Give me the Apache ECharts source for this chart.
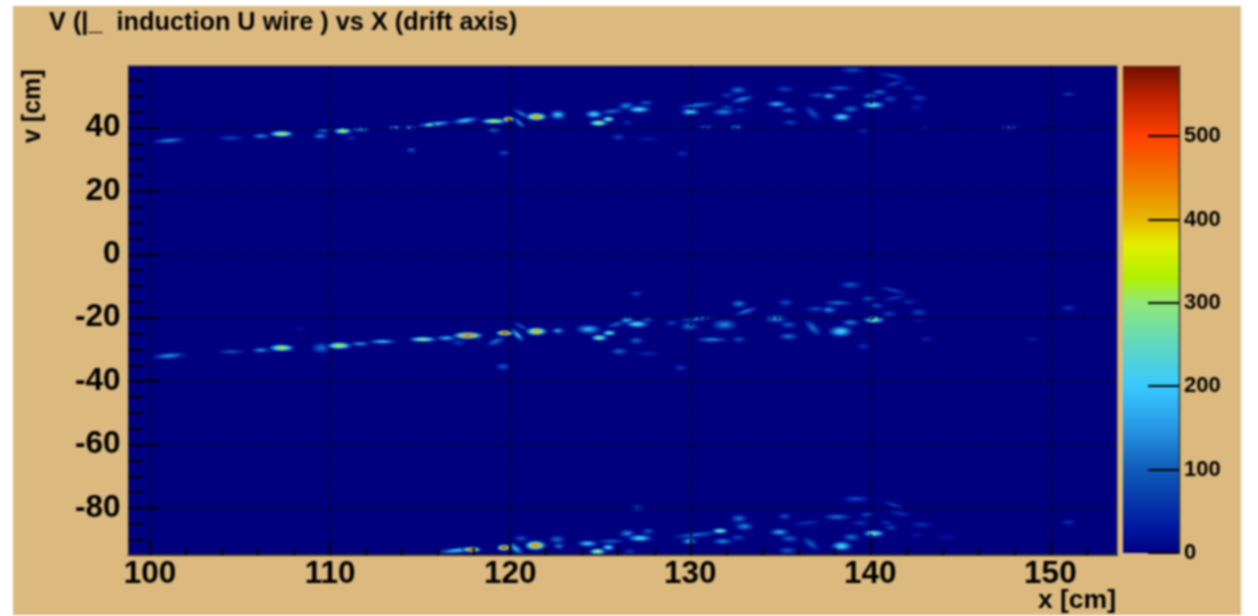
<!DOCTYPE html>
<html><head><meta charset="utf-8">
<style>html,body{margin:0;padding:0;background:#fff}#chart{width:1258px;height:616px;filter:blur(0.9px)}</style>
<script src="https://cdn.jsdelivr.net/npm/echarts@6/dist/echarts.min.js"></script>
</head><body><div id="chart"></div>
<script>
const titleText = 'V (|_  induction U wire ) vs X (drift axis)';
const xMajorTicks = [100,110,120,130,140,150];
const xMinorTicks = [102,104,106,108,112,114,116,118,122,124,126,128,132,134,136,138,142,144,146,148,152];
const yMajorTicks = [-80,-60,-40,-20,0,20,40];
const yMinorTicks = [-90,-85,-75,-70,-65,-55,-50,-45,-35,-30,-25,-15,-10,-5,5,10,15,25,30,35,45,50,55];
const colorbarTicks = [0,100,200,300,400,500];
const paletteValues = [0,30,100,150,200,250,300,330,370,400,450,500,550,584];
const paletteColors = ['#00007f','#0018a0','#0f5cb8','#2898e4','#38c8ff','#60d8c0','#90e878','#b0f000','#e4f000','#e8b800','#f07800','#ff4000','#b82000','#701000'];

// each feature: x1, v1, x2, v2, peak content, half thickness in cm
const upperBand = [
[100.1,35.5,102,36.3,130,.7],[103.7,36.7,105.2,36.7,70,.7],[105.7,37.3,106.6,37.3,130,.7],[106.7,38,107.9,38,340,.8],
[109.3,39,109.9,39,100,.7],[109.1,37.3,109.8,37.3,130,.7],[110.3,38.9,111.1,38.9,330,.8],[111.2,39.4,112.2,39.4,120,.7],
[110.9,36.7,111.4,36.7,50,.6],[113.2,40,114,40,150,.5],[114.1,40,114.7,40,150,.5],[114.8,40.5,116.8,41.7,200,.7],[115.2,40.7,115.8,40.9,300,.5],
[116.8,41.7,118.2,42.7,190,.8],[118.4,42,119.8,42,350,.7],[119.7,42.6,120.1,42.6,550,.7],[118.8,39.2,119.4,39.2,90,.8],
[114.3,32.9,114.7,32.9,90,.7],[119.4,32,119.9,32,80,.7],[120.2,45.6,121.1,43,120,.7],[120.2,43,120.8,40,130,.7],
[121,43.4,121.9,43.4,430,1],[122.4,44,122.9,44,190,1.2],[124.3,44.2,125,44.2,210,1],[124.5,41.4,125.3,41.4,330,.8],
[125.2,42.6,125.7,42.6,300,.7],[125,44.7,126.3,45.5,110,.7],[126.1,46.8,126.8,46.8,130,1],[126.6,45.7,127.7,45.7,220,.9],
[127.2,47.8,127.9,47.8,90,.7],[125.7,37,126.3,37,70,.8],[127,36.4,128.3,36.4,40,.6],[126.3,41.5,126.7,41.5,50,.7],
[129.3,31.7,129.8,31.7,50,.8],[129.3,46.4,131.5,47.7,120,.7],[129.6,44.9,130.4,44.9,210,.9],[130.3,40.1,131.4,40.1,90,.5],[132.2,40.1,132.9,40.1,130,.6],
[131.3,44.9,132.4,44.9,130,.9],[131.7,46.2,132.3,46.2,80,.8],[132.3,48.1,133.5,49.7,130,.8],[132.3,51.8,133,51.8,110,1],
[131.7,50.2,132.4,50.2,60,.7],[132.5,45.5,133,45.5,60,.7],[134.3,47.4,135.3,47.4,170,.8],[134.8,52.1,135.7,52.1,70,.8],
[135.1,45.5,135.8,45.5,100,.8],[135.2,41.6,135.9,41.6,70,.8],[136.5,46,137.1,43,80,1.1],[136.5,50.2,137.8,50.2,70,.7],
[137.4,49.9,138,49.9,170,.8],[137.6,52.4,139,52.4,90,.7],[138,43.3,138.8,43.3,220,1],[138.5,45.8,139.3,45.8,110,.9],
[138.4,58.1,139.6,58.1,80,.8],[139.6,47.1,140.7,47.1,240,.9],[139.6,49.9,140.4,49.9,100,.7],[140.1,51.2,140.9,51.2,110,.7],
[140.8,49,141.4,49,70,.9],[140.4,57.2,142.1,55.3,70,.6],[140.7,53,142,54.6,70,.6],[141.8,52.4,142.5,52.4,40,.7],
[142.3,49.3,143.1,49.3,60,.9],[142.2,46.4,142.9,46.4,30,.7],[139.3,38.9,139.9,38.9,40,.7],[150.6,50.5,151.4,50.5,70,.5],
[147.1,40,148.4,40,90,.5],[142.8,40,143.3,40,30,.5]
];
const middleBand = [
[100.1,-32.4,102,-31.6,140,.8],[103.7,-30.7,105.3,-30.7,90,.6],[105.7,-30.2,106.6,-30.2,140,.7],[106.7,-29.5,107.9,-29.5,340,.9],
[109.2,-29.5,109.8,-29.5,110,1.4],[109.9,-28.8,111.1,-28.8,340,.9],[111.1,-28.2,112.2,-28.2,150,.6],[112.1,-27.5,113.7,-27.5,190,.6],
[114.4,-26.8,115.9,-26.8,300,.7],[115.9,-26.4,117,-26.4,170,.7],[116.9,-25.6,118.4,-25.6,470,.9],[119.3,-24.8,120.1,-24.8,520,.7],
[118.8,-28.3,119.6,-26.6,110,.9],[119.3,-35.4,119.9,-35.4,90,.9],[120.1,-23.8,120.7,-27,180,.8],[120.2,-21.6,121,-23.8,90,.6],
[121,-24.3,121.9,-24.3,420,1],[116.8,-27.8,117.4,-27.8,60,.9],[108.1,-23.5,108.6,-23.5,25,.6],[122.4,-24.1,122.9,-24.1,150,.8],
[123.8,-23.6,124.9,-23.6,170,1.2],[124.6,-26.3,125.3,-26.3,290,.8],[125.2,-24.8,125.8,-24.8,270,.7],[125.4,-22.8,126.4,-21.3,100,.7],
[126.2,-20.8,126.8,-20.8,170,.9],[126.5,-22,127.6,-22,230,.9],[127.3,-20.6,127.9,-20.6,90,.7],[126.7,-12.4,127.3,-12.4,70,.7],
[126.7,-27.2,127.3,-27.2,100,.9],[125.7,-30.6,126.4,-30.6,100,.9],[127,-31.3,128.3,-31.3,40,.7],[129.2,-35.8,129.7,-35.8,60,.8],
[128.7,-21.6,129.2,-21.6,60,.8],[129.3,-20.8,131.4,-19.9,130,.6],[129.6,-22.7,130.3,-22.7,110,1.1],[130.3,-26.9,132.1,-26.9,130,.7],
[131.4,-22.2,132.4,-22.2,130,1.4],[132.4,-26.8,133,-26.8,80,.8],[132.5,-19,133.7,-16.9,120,.7],[132.4,-15.6,133,-15.6,120,1],
[134.2,-20.3,135.3,-20.3,140,1],[135,-15.2,135.6,-15.2,80,.9],[135.1,-22.2,135.8,-22.2,90,.9],[135,-25.9,135.9,-25.9,110,.9],
[136.5,-21.6,137.1,-24.7,110,1.2],[136.4,-17.2,137.6,-17.2,80,.7],[137.4,-17.5,138,-17.5,130,.9],[137.4,-15.3,139,-15.3,110,.7],
[137.9,-24.3,138.8,-24.3,210,1.4],[138.5,-21.5,139.3,-21.5,120,.9],[138.4,-9.6,139.4,-9.6,90,.9],[139.7,-20.6,140.7,-20.6,280,.9],
[139.6,-14,140.2,-14,80,.8],[140,-16.2,140.7,-16.2,80,.7],[140.7,-18.8,141.4,-18.8,70,.8],[140.4,-10.2,142.1,-12.4,70,.6],
[140.7,-14.5,142,-13,60,.6],[141.8,-15,142.5,-15,50,.7],[142.3,-18.3,143.1,-18.3,70,.9],[139.3,-29,139.9,-29,50,.8],
[142.8,-26.7,143.4,-26.7,40,.7],[150.6,-16.9,151.4,-16.9,60,.7],[148.6,-26.7,149.4,-26.7,35,.6],[142.3,-21,143,-21,25,.6]
];
const lowerBand = [
[115.9,-93.9,118.3,-92.8,200,.7],[117.4,-93.1,118.3,-93.1,500,.7],[119.4,-92.5,119.9,-92.5,520,.8],[120,-91.5,120.6,-94,170,1],
[120.3,-89.6,120.9,-89.6,80,.9],[121,-91.8,121.8,-91.8,440,1.2],[122.3,-89.9,122.9,-89.9,110,1],[122.5,-92,122.9,-92,120,.8],
[123.8,-91.2,124.8,-91.2,200,.8],[124.5,-93.7,125.2,-93.7,330,.8],[125.2,-92.4,125.7,-92.4,220,.8],[124.8,-90.5,126.4,-90.5,100,.6],
[126.2,-88,126.8,-88,130,1],[126.6,-89.5,127.8,-89.5,220,.9],[127.4,-87.3,127.9,-87.3,90,.8],[126.4,-93.7,126.9,-93.7,60,.7],
[126.8,-79.9,127.4,-79.9,60,.9],[128.9,-89.3,131.7,-87.6,110,.7],[129.6,-90.5,130.3,-90.5,170,.8],[131.3,-87.2,132,-87.2,290,.7],
[131.3,-90.5,132.3,-90.5,130,.8],[132.4,-83.3,133,-83.3,110,1.1],[132.6,-85.8,133.4,-85.8,130,1],[132.3,-89.3,133,-89.3,70,.8],
[134.5,-87.6,135.4,-87.6,160,.9],[135,-82.6,135.5,-82.6,80,.8],[135.1,-89.6,135.9,-89.6,100,.9],[135,-93.4,135.8,-93.4,90,.9],
[136.4,-90,137,-92.5,90,1.1],[135.6,-85.2,137.3,-84.2,60,.6],[137.4,-82.8,138.9,-82.8,110,.8],[138,-92,138.8,-92,220,1.2],
[138.6,-89.2,139.3,-89.2,110,1],[138.5,-77.1,139.9,-77.1,80,.8],[139.7,-88,140.7,-88,250,.9],[139,-84.7,139.9,-84.7,60,.7],
[139.5,-82.1,140.1,-82.1,70,.8],[140.7,-77.9,141.9,-80.2,70,.6],[141,-81.1,142.3,-82.4,60,.6],[140.6,-84.6,141.2,-84.6,50,.7],
[140.9,-86.1,141.4,-86.1,70,.8],[142.3,-85.2,143.4,-85.2,50,.8],[142.3,-88.6,142.8,-88.6,30,.7],[143.7,-89.2,144.8,-89.2,25,.7],
[150.6,-84.5,151.4,-84.5,60,.6]
];

const TEXT = '#000000', FONT = 'Liberation Sans';
const AXIS_X = [98.8, 153.7], AXIS_Y = [-94.8, 59.4], Z_MAX = 584;

function hex(c){return [1,3,5].map(i=>parseInt(c.substr(i,2),16));}
function jet(v,a){
  let i=0; v=Math.max(0,Math.min(Z_MAX,v));
  while(i<paletteValues.length-2 && v>paletteValues[i+1]) i++;
  const t=(v-paletteValues[i])/(paletteValues[i+1]-paletteValues[i]);
  const c0=hex(paletteColors[i]),c1=hex(paletteColors[i+1]);
  const m=c0.map((c,k)=>Math.round(c+(c1[k]-c)*t));
  return `rgba(${m[0]},${m[1]},${m[2]},${a===undefined?1:a})`;
}
function renderStreak(params,api){
  const x1=api.value(0),v1=api.value(1),x2=api.value(2),v2=api.value(3),p=api.value(4),th=api.value(5);
  const a=api.coord([x1,v1]),b=api.coord([x2,v2]);
  const cx=(a[0]+b[0])/2,cy=(a[1]+b[1])/2;
  const len=Math.hypot(b[0]-a[0],b[1]-a[1]);
  const thick=api.size([0,th])[1];
  const rx=len/2+thick*1.5, ry=thick*1.55;
  const R=20;
  return {
    type:'circle',
    shape:{cx:0,cy:0,r:R},
    x:cx,y:cy,scaleX:rx/R,scaleY:ry/R,
    rotation:-Math.atan2(b[1]-a[1],b[0]-a[0]),
    style:{fill:new echarts.graphic.RadialGradient(0.5,0.5,0.5,[
      {offset:0,color:jet(p*1.1)},
      {offset:0.22,color:jet(p*0.92)},
      {offset:0.48,color:jet(p*0.55)},
      {offset:0.75,color:jet(p*0.2,0.9)},
      {offset:1,color:jet(0,0)}
    ]),stroke:null,lineWidth:0}
  };
}
const features=[...upperBand,...middleBand,...lowerBand].sort((a,b)=>a[4]-b[4]);
const tickLine={lineStyle:{color:'#000',width:2}};
const gridDots={show:true,lineStyle:{color:'#000',type:[2,4],width:2.2}};
const chart=echarts.init(document.getElementById('chart'));
chart.setOption({
  animation:false,
  backgroundColor:'#ffffff',
  textStyle:{fontFamily:FONT},
  title:{text:titleText,left:49,top:11,padding:0,textStyle:{fontFamily:FONT,fontSize:25.3,fontWeight:'bold',color:TEXT}},
  graphic:[
    {type:'rect',z:-10,silent:true,shape:{x:13,y:6,width:1228,height:609},style:{fill:'#dbb97f'}},
    {type:'text',x:33,y:143,rotation:Math.PI/2,z:5,style:{text:'v [cm]',font:'bold 25px "Liberation Sans"',fill:TEXT,textAlign:'left',textVerticalAlign:'middle'}},
    {type:'text',x:1116,y:601,z:5,style:{text:'x [cm]',font:'bold 26.5px "Liberation Sans"',fill:TEXT,textAlign:'right',textVerticalAlign:'middle'}}
  ],
  grid:[
    {left:128.5,top:66,width:988.5,height:489,show:true,backgroundColor:'#00007f',borderColor:'#2a2a30',borderWidth:1},
    {left:1123,top:66,width:56,height:487,show:false}
  ],
  xAxis:[
    {type:'value',gridIndex:0,min:AXIS_X[0],max:AXIS_X[1],position:'bottom',z:6,
     axisLine:{onZero:false,lineStyle:{color:'#3a3020',width:2}},
     axisTick:{inside:true,length:15,customValues:xMajorTicks,...tickLine},
     axisLabel:{customValues:xMajorTicks,fontSize:31.5,fontWeight:'bold',color:TEXT,margin:3},
     splitLine:gridDots},
    {type:'value',gridIndex:0,min:AXIS_X[0],max:AXIS_X[1],position:'bottom',z:6,
     axisLine:{show:false,onZero:false},
     axisTick:{inside:true,length:7,customValues:xMinorTicks,...tickLine},
     axisLabel:{show:false},splitLine:{show:false}},
    {type:'category',gridIndex:1,data:['z'],show:false,boundaryGap:true}
  ],
  yAxis:[
    {type:'value',gridIndex:0,min:AXIS_Y[0],max:AXIS_Y[1],position:'left',z:6,
     axisLine:{onZero:false,lineStyle:{color:'#2a2a30',width:1}},
     axisTick:{inside:true,length:30,customValues:yMajorTicks,...tickLine},
     axisLabel:{customValues:yMajorTicks,fontSize:31.5,fontWeight:'bold',color:TEXT,margin:8},
     splitLine:gridDots},
    {type:'value',gridIndex:0,min:AXIS_Y[0],max:AXIS_Y[1],position:'left',z:6,
     axisLine:{show:false,onZero:false},
     axisTick:{inside:true,length:15,customValues:yMinorTicks,...tickLine},
     axisLabel:{show:false},splitLine:{show:false}},
    {type:'value',gridIndex:1,min:0,max:Z_MAX,position:'right',z:20,zlevel:1,
     axisLine:{show:true,onZero:false,lineStyle:{color:'#2a2a20',width:1.4}},
     axisTick:{show:true,inside:true,length:31,customValues:colorbarTicks,lineStyle:{color:'#000',width:2}},
     axisLabel:{customValues:colorbarTicks,fontSize:22,fontWeight:'bold',color:TEXT,margin:5},
     splitLine:{show:false}}
  ],
  series:[
    {type:'custom',xAxisIndex:0,yAxisIndex:0,coordinateSystem:'cartesian2d',clip:true,silent:true,
     renderItem:renderStreak,data:features,encode:{x:[0,2],y:[1,3]},z:2},
    {type:'bar',xAxisIndex:2,yAxisIndex:2,data:[Z_MAX],barWidth:'100%',silent:true,z:1,
     itemStyle:{color:new echarts.graphic.LinearGradient(0,1,0,0,paletteValues.map((v,i)=>({offset:v/Z_MAX,color:paletteColors[i]})))}}
  ]
});
</script></body></html>
